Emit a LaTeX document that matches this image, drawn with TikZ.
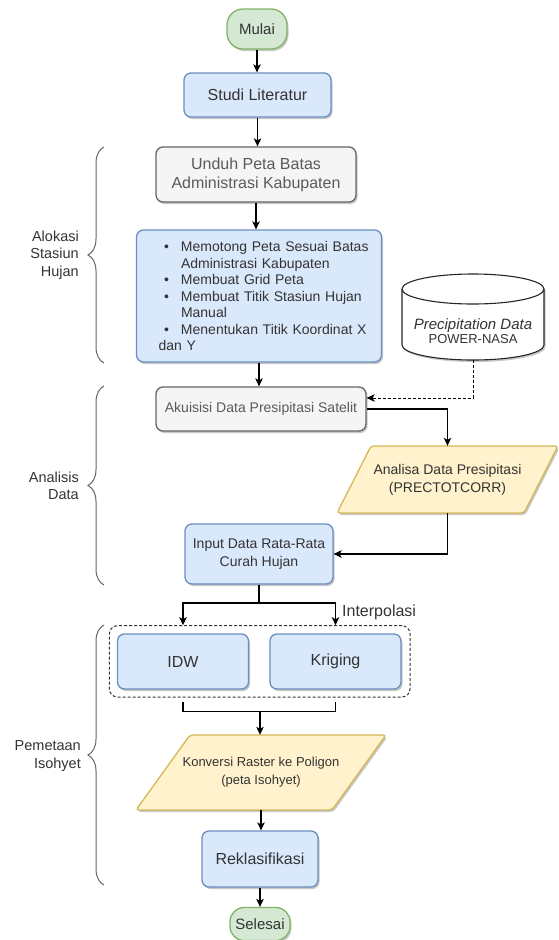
\documentclass[tikz,border=0pt]{standalone}
\usepackage{fontspec}
\setmainfont{Liberation Sans}
\usetikzlibrary{arrows.meta,shadows,decorations.pathreplacing,backgrounds}
\definecolor{gfill}{HTML}{D5E8D4}
\definecolor{gstroke}{HTML}{82B366}
\definecolor{bfill}{HTML}{DAE8FC}
\definecolor{bstroke}{HTML}{6C8EBF}
\definecolor{hfill}{HTML}{F5F5F5}
\definecolor{hstroke}{HTML}{666666}
\definecolor{yfill}{HTML}{FFF2CC}
\definecolor{ystroke}{HTML}{D6B656}
\definecolor{txt}{HTML}{333333}
\definecolor{htxt}{HTML}{5A5A5A}
\newcommand\myfs[2]{\fontsize{#1}{#2}\selectfont}
\newcommand\bul{\makebox[17pt][l]{\textbullet}}
\newcommand\cnt{\hspace*{17pt}}
\begin{document}
\begin{tikzpicture}[x=1pt,y=-1pt,
  shad/.style={drop shadow={shadow xshift=1.5pt,shadow yshift=-2pt,opacity=0.22,fill=black}},
  base/.style={line width=1.3pt,align=center,inner sep=0pt,text=txt,shad},
  bluebox/.style={base,draw=bstroke,fill=bfill,rounded corners=7pt},
  graybox/.style={base,draw=hstroke,fill=hfill,rounded corners=7pt,text=htxt},
  term/.style={base,draw=gstroke,fill=gfill,rounded corners=16pt},
  para/.style={line width=1.3pt,draw=ystroke,fill=yfill,rounded corners=3pt,shad},
  plain/.style={inner sep=0pt,align=center,text=txt},
  arr/.style={-{Stealth[length=8pt,width=7.5pt,inset=2pt]},line width=1.2pt,black},
  ln/.style={line width=1.2pt,black},
  brc/.style={decorate,decoration={brace,amplitude=16pt},line width=1pt,draw=hstroke},
  lbl/.style={inner sep=0pt,align=right,text=txt,anchor=east,font=\myfs{14.5}{17.5}}
]
\useasboundingbox (0,0) rectangle (559,940);

% terminals and boxes
\node[term,minimum width=60pt,minimum height=40pt,font=\myfs{15}{18}] (mulai) at (257,29) {Mulai};
\node[bluebox,minimum width=147pt,minimum height=44pt,font=\myfs{16}{19}] (studi) at (257.5,95) {Studi Literatur};
\node[graybox,minimum width=200pt,minimum height=55pt,font=\myfs{16}{19}] (unduh) at (256,174.5) {Unduh Peta Batas\\Administrasi Kabupaten};
\node[bluebox,minimum width=245pt,minimum height=132pt,text width=235pt,inner xsep=5pt,align=left,font=\myfs{14}{16.5}] (bullet) at (259,296) {\leftskip=22.5pt
\bul Memotong Peta Sesuai Batas\\
\cnt Administrasi Kabupaten\\
\bul Membuat Grid Peta\\
\bul Membuat Titik Stasiun Hujan\\
\cnt Manual\\
\bul Menentukan Titik Koordinat X\\
\cnt dan Y};

% cylinder
\draw[line width=1.1pt,draw=black!85,fill=white,shad]
  (402,289) -- (402,345) arc[start angle=180,end angle=360,x radius=71pt,y radius=15pt]
  -- (544,289) arc[start angle=0,end angle=180,x radius=71pt,y radius=15pt] -- cycle;
\draw[line width=1.1pt,draw=black!85] (402,289) arc[start angle=180,end angle=360,x radius=71pt,y radius=15pt];
\node[plain,minimum width=142pt,minimum height=58pt] (cyl) at (473,331) {{\myfs{15}{18}\itshape Precipitation Data}\\[1pt]{\myfs{13}{16}POWER-NASA}};

\node[graybox,minimum width=210pt,minimum height=44pt,font=\myfs{14}{17}] (aku) at (261,409) {Akuisisi Data Presipitasi Satelit};

% parallelogram Analisa
\draw[para] (371,446) -- (558,446) -- (524,513) -- (337,513) -- cycle;
\node[plain,minimum width=221pt,minimum height=67pt,font=\myfs{14}{18}] (ana) at (447.5,479.5) {Analisa Data Presipitasi\\(PRECTOTCORR)};

\node[bluebox,minimum width=148pt,minimum height=60pt,font=\myfs{14}{18}] (input) at (259,554) {Input Data Rata-Rata\\Curah Hujan};

% interpolation group
\node[draw=txt,dash pattern=on 3pt off 2pt,line width=1pt,rounded corners=8pt,minimum width=300.6pt,minimum height=71.3pt,inner sep=0pt] (grp) at (259.7,661.35) {};
\node[bluebox,minimum width=131pt,minimum height=55pt,font=\myfs{16}{19}] (idw) at (183,661.5) {IDW};
\node[bluebox,minimum width=131pt,minimum height=55pt,font=\myfs{16}{19}] (krig) at (335.5,661.5) {Kriging};
\node[plain,anchor=west,font=\myfs{16}{19}] (interp) at (342,612) {Interpolasi};

% parallelogram Konversi
\draw[para] (190,735) -- (386,735) -- (332,810) -- (136,810) -- cycle;
\node[plain,minimum width=250pt,minimum height=75pt,font=\myfs{13}{18}] (konv) at (261,772.5) {Konversi Raster ke Poligon\\(peta Isohyet)};

\node[bluebox,minimum width=116pt,minimum height=56pt,font=\myfs{16}{19}] (rekl) at (260,859) {Reklasifikasi};
\node[term,minimum width=60pt,minimum height=33pt,rounded corners=14pt,font=\myfs{15}{18}] (selesai) at (260,924) {Selesai};

% connectors
\draw[arr] (mulai.south) -- (mulai.south |- studi.north);
\draw[arr] (studi.south) -- (studi.south |- unduh.north);
\draw[arr] (unduh.south) -- (unduh.south |- bullet.north);
\draw[arr] (bullet.south) -- (bullet.south |- aku.north);
\draw[arr,line width=1pt,dash pattern=on 3pt off 2pt] (cyl.south) |- ([yshift=11pt]aku.east);
\draw[arr] (aku.east) -| (ana.north);
\draw[arr] (ana.south) |- (input.east);
\coordinate (split) at (259,603);
\draw[ln] (input.south) -- (split);
\draw[arr] (split) -| (idw.north |- grp.north);
\draw[arr] (split) -| (krig.north |- grp.north);
\coordinate (merge) at (260,711.7);
\draw[ln] ([yshift=-4.5pt]grp.south -| idw.south) |- (merge) -| ([yshift=-4.5pt]grp.south -| krig.south);
\draw[arr] (merge) -- (merge |- konv.north);
\draw[arr] (konv.south) -- (konv.south |- rekl.north);
\draw[arr] (rekl.south) -- (rekl.south |- selesai.north);

% braces and section labels
\coordinate (b1s) at (104,363); \coordinate (b1e) at (104,147);
\coordinate (b2s) at (104,585); \coordinate (b2e) at (104,386);
\coordinate (b3s) at (104,885); \coordinate (b3e) at (104,625);
\draw[brc] (b1s) -- (b1e);
\draw[brc] (b2s) -- (b2e);
\draw[brc] (b3s) -- (b3e);
\node[lbl] (l1) at (79,255) {Alokasi\\Stasiun\\Hujan};
\node[lbl] (l2) at (79,486) {Analisis\\Data};
\node[lbl] (l3) at (81,756) {Pemetaan\\Isohyet};
\end{tikzpicture}
\end{document}
